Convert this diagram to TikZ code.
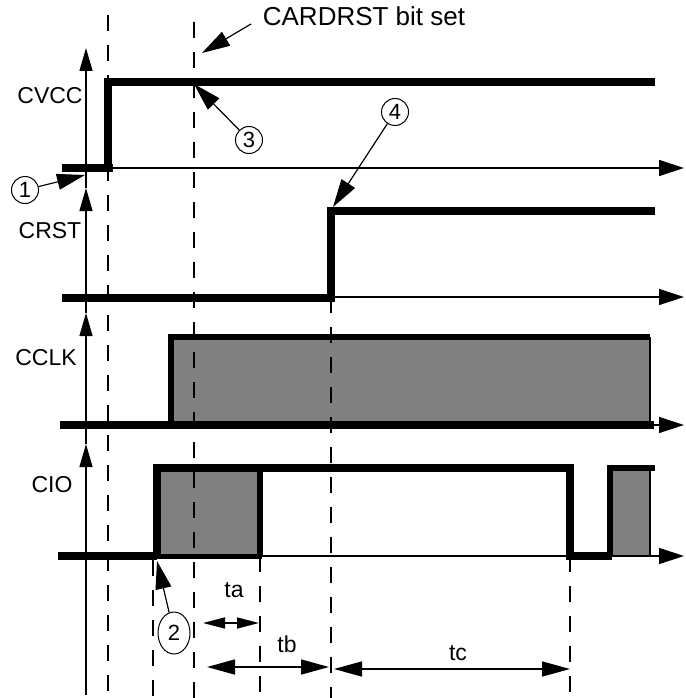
\documentclass[tikz,border=0pt]{standalone}
\usepackage{fontspec}
\setmainfont{Liberation Sans}
\usetikzlibrary{arrows.meta,shapes.geometric}
\definecolor{boxgray}{HTML}{808080}
\begin{document}
\begin{tikzpicture}[x=1pt,y=-1pt,
  lbl/.style={font=\fontsize{23}{27}\selectfont, inner sep=0pt, anchor=base},
  num/.style={draw, line width=1pt, circle, minimum size=27pt, inner sep=0pt, font=\fontsize{22}{24}\selectfont},
  sig/.style={line width=8pt, line join=miter, line cap=butt},
  edgethin/.style={line width=2pt},
  axis/.style={line width=1.3pt, -{Triangle[length=25pt,width=16pt]}},
  vaxis/.style={line width=1.3pt, -{Triangle[length=23pt,width=13pt]}},
  dsh/.style={line width=2pt, dash pattern=on 16pt off 14pt},
  ann/.style={line width=1.2pt, -{Triangle[length=28pt,width=16pt]}},
  dim/.style={line width=1.5pt, {Triangle[length=28pt,width=15pt]}-{Triangle[length=28pt,width=15pt]}},
  dimsmall/.style={line width=1.5pt, {Triangle[length=22pt,width=11pt]}-{Triangle[length=22pt,width=11pt]}}
]
\useasboundingbox (0,0) rectangle (685,698);

% gray fills
\fill[boxgray] (171,337) rectangle (650,425);
\fill[boxgray] (157,468) rectangle (260,556);
\fill[boxgray] (610,468) rectangle (650,556);

% dashed guides
\draw[dsh] (107.5,15) -- (107.5,698);
\draw[dsh] (194,22) -- (194,698);
\draw[dsh] (153,560) -- (153,698);
\draw[dsh] (260,556) -- (260,698);
\draw[dsh] (331,297) -- (331,698);
\draw[dsh] (570,556) -- (570,698);

% vertical axis
\coordinate (vb) at (86,695);
\coordinate (v4) at (86,444);
\coordinate (v3) at (86,313);
\coordinate (v2) at (86,188);
\coordinate (v1) at (86,48);
\draw[vaxis] (vb) -- (v4);
\draw[vaxis] (v4) -- (v3);
\draw[vaxis] (v3) -- (v2);
\draw[vaxis] (v2) -- (v1);

% horizontal axes
\foreach \y/\n in {168/a,297/b,425/c,556/d}{
  \coordinate (h\n s) at (86,\y);
  \coordinate (h\n e) at (684,\y);
  \draw[axis] (h\n s) -- (h\n e);
}

% CVCC
\draw[sig] (62,168) -- (113,168);
\draw[sig] (107.5,168) -- (107.5,82) -- (655,82);
% CRST
\draw[sig] (62,298) -- (331,298) -- (331,211) -- (655,211);
% CCLK
\draw[sig] (60,425) -- (654,425);
\draw[line width=6pt, line join=miter] (171,425) -- (171,337) -- (650,337);
\draw[edgethin] (650,337) -- (650,425);
% CIO
\draw[sig] (58,556) -- (157,556);
\draw[line width=5pt] (157,556) -- (262,556);
\draw[line width=6pt] (260,556) -- (260,468);
\draw[sig] (157,556) -- (157,468) -- (570,468) -- (570,556) -- (612,556);
\draw[line width=6pt, line join=miter] (610,556) -- (610,468) -- (655,468);
\draw[edgethin] (650,468) -- (650,556);

% labels
\node[lbl] (lcvcc) at (50,103) {CVCC};
\node[lbl] (lcrst) at (50,238) {CRST};
\node[lbl] (lcclk) at (46,365) {CCLK};
\node[lbl] (lcio) at (52,492) {CIO};
\node[lbl, font=\fontsize{26}{30}\selectfont] (cardrst) at (364,26) {CARDRST bit set};

% CARDRST arrow
\coordinate (cs) at (251,24);
\coordinate (ct) at (202,53);
\draw[ann] (cs) -- (ct);

% numbered callouts
\node[num] (n1) at (25,190) {1};
\coordinate (t1) at (85,175);
\draw[ann] (n1) -- (t1);
\node[num] (n3) at (249,140) {3};
\coordinate (t3) at (194,84);
\draw[ann] (n3) -- (t3);
\node[num] (n4) at (395,112) {4};
\coordinate (t4) at (333,207);
\draw[ann] (n4) -- (t4);
\node[num, ellipse, minimum width=32pt, minimum height=42pt] (n2) at (174,633) {2};
\coordinate (t2) at (157,561);
\draw[ann] (n2) -- (t2);

% timing dimensions
\coordinate (ta1) at (203,623);
\coordinate (ta2) at (259,623);
\draw[dimsmall] (ta1) -- (ta2);
\node[lbl] (lta) at (234,597) {ta};
\coordinate (tb1) at (207,667);
\coordinate (tb2) at (329,667);
\draw[dim] (tb1) -- (tb2);
\node[lbl] (ltb) at (287,652) {tb};
\coordinate (tc1) at (334,669);
\coordinate (tc2) at (570,669);
\draw[dim] (tc1) -- (tc2);
\node[lbl] (ltc) at (458,660) {tc};
\end{tikzpicture}
\end{document}
